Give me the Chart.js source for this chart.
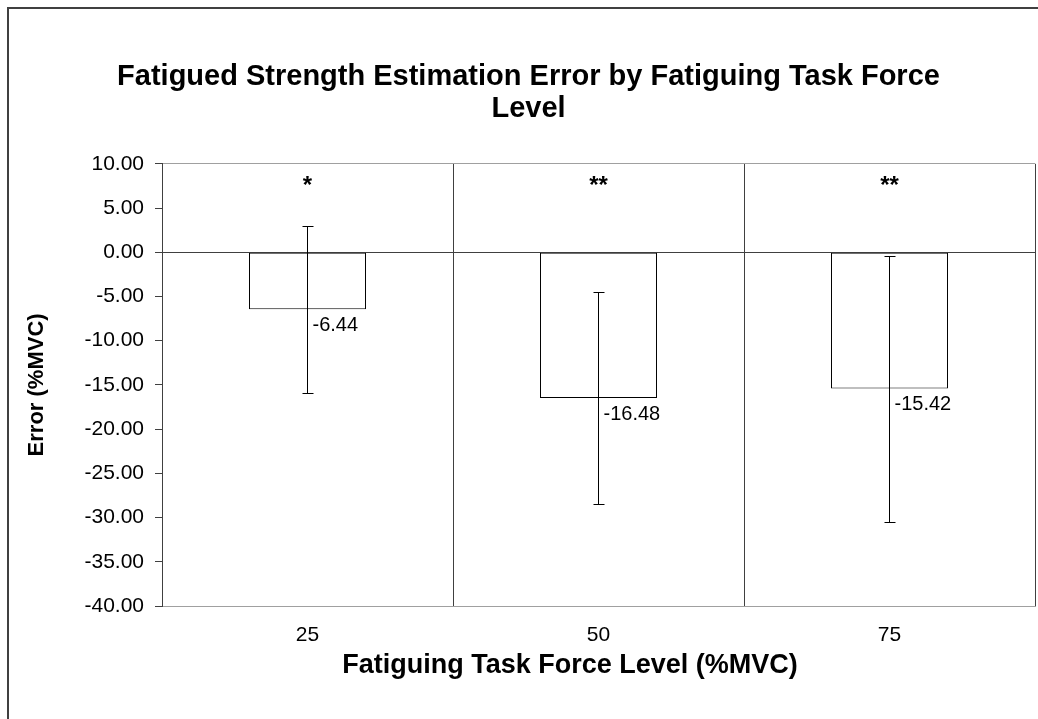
<!DOCTYPE html>
<html>
<head>
<meta charset="utf-8">
<title>Fatigued Strength Estimation Error</title>
<script src="https://cdn.jsdelivr.net/npm/chart.js@4.4.1/dist/chart.umd.min.js"></script>
<style>
  html, body { margin: 0; padding: 0; background: #fff; }
  canvas { display: block; }
</style>
</head>
<body>
<canvas id="errorChart" width="1038" height="719"></canvas>
<script>
const forceLevels = ['25', '50', '75'];
const meanError = [-6.44, -16.48, -15.42];
const errorSD = [9.46, 12.03, 15.05];
const significance = ['*', '**', '**'];

const fontFamily = '"Liberation Sans", Arial, sans-serif';
Chart.defaults.font.family = fontFamily;
Chart.defaults.color = '#000';

// frame, error bars, value labels, stars and the x axis title
const extras = {
    id: 'extras',
    beforeDraw(chart) {
        const c = chart.ctx;
        c.save();
        c.fillStyle = '#fff';
        c.fillRect(0, 0, chart.width, chart.height);
        c.fillStyle = '#404040';
        c.fillRect(7, 7, chart.width, 2);
        c.fillRect(7, 7, 2, chart.height);
        c.restore();
    },
    afterDatasetsDraw(chart) {
        const c = chart.ctx;
        const x = chart.scales.x;
        const y = chart.scales.y;
        c.save();
        c.strokeStyle = '#000';
        c.fillStyle = '#000';
        c.lineWidth = 1;
        meanError.forEach((m, i) => {
            const px = Math.floor(x.getPixelForValue(i)) + 0.5;
            const top = Math.round(y.getPixelForValue(m + errorSD[i])) + 0.5;
            const bot = Math.round(y.getPixelForValue(m - errorSD[i])) + 0.5;
            c.beginPath();
            c.moveTo(px, top);
            c.lineTo(px, bot);
            c.moveTo(px - 5, top);
            c.lineTo(px + 6, top);
            c.moveTo(px - 5, bot);
            c.lineTo(px + 6, bot);
            c.stroke();

            c.font = '20px ' + fontFamily;
            c.textAlign = 'left';
            c.textBaseline = 'middle';
            c.fillText(m.toFixed(2), px + 5, y.getPixelForValue(m) + 16);

            c.font = 'bold 24px ' + fontFamily;
            c.textAlign = 'center';
            c.fillText(significance[i], px, y.getPixelForValue(7.5));
        });
        c.font = 'bold 27px ' + fontFamily;
        c.textAlign = 'center';
        c.textBaseline = 'middle';
        c.fillText('Fatiguing Task Force Level (%MVC)', 570, 666);
        c.restore();
    }
};

new Chart(document.getElementById('errorChart'), {
    type: 'bar',
    data: {
        labels: forceLevels,
        datasets: [{
            label: 'Error (%MVC)',
            data: meanError,
            backgroundColor: '#fff',
            borderColor: '#000',
            borderWidth: 1,
            borderSkipped: false,
            barPercentage: 1,
            categoryPercentage: 0.402
        }]
    },
    options: {
        responsive: false,
        animation: false,
        layout: { padding: { left: 22, right: 3, top: 0, bottom: 0 } },
        plugins: {
            legend: { display: false },
            tooltip: { enabled: false },
            title: {
                display: true,
                text: ['Fatigued Strength Estimation Error by Fatiguing Task Force', 'Level'],
                font: { size: 29, weight: 'bold', lineHeight: 1.1 },
                color: '#000',
                padding: { top: 61, bottom: 39 }
            }
        },
        scales: {
            x: {
                grid: {
                    offset: true,
                    drawTicks: false,
                    color: ctx => ctx.index === 3 ? '#a0a0a0' : '#404040'
                },
                border: { color: '#a0a0a0' },
                ticks: { font: { size: 21 }, padding: 17, color: '#000' },
                afterFit(s) { s.height = 113; }
            },
            y: {
                min: -40,
                max: 10,
                ticks: {
                    stepSize: 5,
                    font: { size: 21 },
                    padding: 11,
                    color: '#000',
                    callback: v => Number(v).toFixed(2)
                },
                grid: {
                    color: ctx => ctx.tick.value === 0 ? '#404040' : (ctx.tick.value === 10 ? '#a0a0a0' : 'transparent'),
                    tickColor: '#404040',
                    tickLength: 7
                },
                border: { color: '#404040' },
                title: {
                    display: true,
                    text: 'Error (%MVC)',
                    color: '#000',
                    font: { size: 22, weight: 'bold', lineHeight: 1.2 },
                    padding: { top: 2, bottom: 0 }
                },
                afterFit(s) { s.width = 140; }
            }
        }
    },
    plugins: [extras]
});
</script>
</body>
</html>
